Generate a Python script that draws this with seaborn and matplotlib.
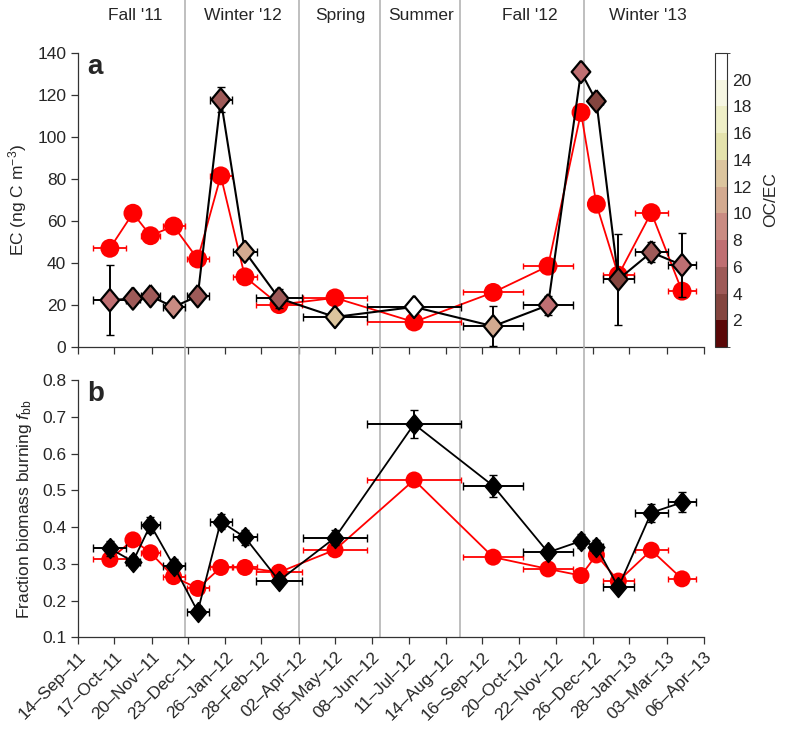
import numpy as np
import pandas as pd
import matplotlib
matplotlib.use('Agg')
import matplotlib.pyplot as plt
import matplotlib.dates as mdates
from matplotlib.colors import ListedColormap, BoundaryNorm
from matplotlib.cm import ScalarMappable
import seaborn as sns

# sample mid dates and half-width of sampling period (days)
dates = ['2011-10-13', '2011-11-03', '2011-11-19', '2011-12-10', '2012-01-01',
         '2012-01-22', '2012-02-13', '2012-03-15', '2012-05-05', '2012-07-16',
         '2012-09-26', '2012-11-15', '2012-12-15', '2012-12-29', '2013-01-18',
         '2013-02-17', '2013-03-17']
x_err_days = [15, 6, 9, 10, 10, 10, 11, 21, 29, 43, 27, 23, 5, 6, 14, 15, 13]

# panel a: EC (ng C m-3)
ec_black = [22.3, 23.1, 24.2, 19.1, 24.2, 117.8, 45.4, 23.2, 14.3, 19.1,
            9.9, 19.9, 131.0, 117.0, 32.2, 45.1, 39.0]
ec_black_err = [16.7, 0, 0, 0, 0, 6, 0, 4.5, 0, 0, 9.5, 4.6, 3, 2.5, 21.8, 4.8, 15.3]
ec_red = [47.0, 63.7, 53.0, 57.6, 41.9, 81.5, 33.4, 20.2, 23.4, 11.9,
          26.0, 38.5, 111.7, 68.0, 34.2, 64.0, 26.6]
oc_ec = [7, 5, 5, 8.5, 5, 5, 11, 5, 12.5, 21, 11, 6, 6.5, 3, 3, 5, 6]

# panel b: fraction biomass burning
fbb_black = [0.342, 0.306, 0.406, 0.295, 0.170, 0.415, 0.372, 0.254, 0.371, 0.680,
             0.512, 0.331, 0.362, 0.347, 0.236, 0.439, 0.467]
fbb_black_err = [0.02, 0.015, 0.022, 0.018, 0.015, 0.02, 0.02, 0.015, 0.02, 0.038,
                 0.03, 0.015, 0.02, 0.018, 0.01, 0.025, 0.027]
fbb_red = [0.312, 0.365, 0.330, 0.265, 0.233, 0.290, 0.290, 0.277, 0.338, 0.528,
           0.318, 0.286, 0.268, 0.324, 0.253, 0.337, 0.259]

tick_labels = ['14–Sep–11', '17–Oct–11', '20–Nov–11', '23–Dec–11', '26–Jan–12',
               '28–Feb–12', '02–Apr–12', '05–May–12', '08–Jun–12', '11–Jul–12',
               '14–Aug–12', '16–Sep–12', '20–Oct–12', '22–Nov–12', '26–Dec–12',
               '28–Jan–13', '03–Mar–13', '06–Apr–13']

season_names = ["Fall '11", "Winter '12", 'Spring', 'Summer', "Fall '12", "Winter '13"]
season_centers = ['2011-11-05', '2012-02-11', '2012-05-10', '2012-07-22', '2012-10-29', '2013-02-14']
season_bounds = ['2011-12-20', '2012-04-02', '2012-06-15', '2012-08-27', '2012-12-18']

cbar_colors = ['#5a0808', '#84453f', '#9e5a58', '#bf6f72', '#c98b82', '#d3aa90',
               '#dcc59e', '#e4e2ac', '#eeeec6', '#f6f6e2', '#ffffff']

sns.set_style('ticks')
plt.rcParams['font.family'] = ['Liberation Sans', 'DejaVu Sans']
plt.rcParams['mathtext.fontset'] = 'custom'
plt.rcParams['mathtext.rm'] = 'Liberation Sans'
plt.rcParams['mathtext.it'] = 'Liberation Sans:italic'

x = mdates.date2num(pd.to_datetime(dates))
ticks = mdates.date2num(pd.to_datetime([t.replace('–', '-') for t in tick_labels], format='%d-%b-%y'))
df = pd.DataFrame({'x': x, 'ec_black': ec_black, 'ec_red': ec_red, 'oc_ec': oc_ec,
                   'fbb_black': fbb_black, 'fbb_red': fbb_red})

cmap = ListedColormap(cbar_colors)
norm = BoundaryNorm(np.arange(0, 24, 2), cmap.N)
diamond = [(0, 1.2), (1, 0), (0, -1.2), (-1, 0), (0, 1.2)]

fig = plt.figure(figsize=(7.88, 7.36), dpi=100)
ax1 = fig.add_axes([0.099, 0.5285, 0.7944, 0.3995])
ax2 = fig.add_axes([0.099, 0.1341, 0.7944, 0.3496])
cax = fig.add_axes([0.9074, 0.5285, 0.0152, 0.3995])

# ---- panel a
ax1.errorbar(x, ec_red, xerr=x_err_days, fmt='none', ecolor='red', elinewidth=1.3, capsize=2.5, zorder=2)
sns.lineplot(data=df, x='x', y='ec_red', color='red', lw=1.3, ax=ax1, zorder=3)
sns.scatterplot(data=df, x='x', y='ec_red', color='red', s=185, edgecolor='none', ax=ax1, zorder=4)
ax1.errorbar(x, ec_black, xerr=x_err_days, yerr=ec_black_err, fmt='none', ecolor='black',
             elinewidth=1.4, capsize=3, zorder=5)
sns.lineplot(data=df, x='x', y='ec_black', color='black', lw=1.5, ax=ax1, zorder=6)
sns.scatterplot(data=df, x='x', y='ec_black', hue='oc_ec', palette=cmap, hue_norm=norm,
                marker=diamond, s=260, edgecolor='black', linewidth=1.6, legend=False, ax=ax1, zorder=7)
ax1.set_ylim(0, 140)
ax1.set_yticks(range(0, 141, 20))
ax1.set_ylabel('EC (ng C m$^{-3}$)', fontsize=12.5, labelpad=6)
ax1.text(0.015, 0.995, 'a', transform=ax1.transAxes, fontsize=20, fontweight='bold', va='top', ha='left')

# ---- panel b
ax2.errorbar(x, fbb_red, xerr=x_err_days, fmt='none', ecolor='red', elinewidth=1.3, capsize=2.5, zorder=2)
sns.lineplot(data=df, x='x', y='fbb_red', color='red', lw=1.3, ax=ax2, zorder=3)
sns.scatterplot(data=df, x='x', y='fbb_red', color='red', s=150, edgecolor='none', ax=ax2, zorder=4)
ax2.errorbar(x, fbb_black, xerr=x_err_days, yerr=fbb_black_err, fmt='none', ecolor='black',
             elinewidth=1.4, capsize=3, zorder=5)
sns.lineplot(data=df, x='x', y='fbb_black', color='black', lw=1.3, ax=ax2, zorder=6)
sns.scatterplot(data=df, x='x', y='fbb_black', color='black', marker=diamond, s=210,
                edgecolor='black', linewidth=1, ax=ax2, zorder=7)
ax2.set_ylim(0.1, 0.8)
ax2.set_yticks(np.arange(0.1, 0.81, 0.1))
ax2.set_yticklabels([f'{v:.1f}' for v in np.arange(0.1, 0.81, 0.1)])
ax2.set_ylabel('Fraction biomass burning $\\mathit{f}_{\\mathrm{bb}}$', fontsize=12.5, labelpad=6)
ax2.text(0.015, 0.995, 'b', transform=ax2.transAxes, fontsize=20, fontweight='bold', va='top', ha='left')

for ax in (ax1, ax2):
    ax.set_xlim(ticks[0], ticks[-1])
    ax.set_xticks(ticks)
    ax.set_xlabel('')
    ax.tick_params(direction='out', length=5, width=0.9, labelsize=12.5, color='#333333')
    sns.despine(ax=ax)
    for sp in ('left', 'bottom'):
        ax.spines[sp].set_color('#333333')
        ax.spines[sp].set_linewidth(0.9)
ax1.set_xticklabels([])
ax2.set_xticklabels(tick_labels, rotation=45, ha='right', rotation_mode='anchor', fontsize=12.5)

# season separators and names
for b in mdates.date2num(pd.to_datetime(season_bounds)):
    ax1.axvline(b, ymin=0, ymax=1.18, color='#b4b4b4', lw=1.2, clip_on=False, zorder=1)
    ax2.axvline(b, ymin=0, ymax=1.13, color='#b4b4b4', lw=1.2, clip_on=False, zorder=1)
for name, c in zip(season_names, mdates.date2num(pd.to_datetime(season_centers))):
    ax1.text(c, 1.126, name, transform=ax1.get_xaxis_transform(), ha='center', va='center', fontsize=12.5)

# colorbar
cb = fig.colorbar(ScalarMappable(norm=norm, cmap=cmap), cax=cax, ticks=range(2, 21, 2))
cb.outline.set_linewidth(0.8)
cb.outline.set_edgecolor('#333333')
cax.tick_params(direction='in', length=4, width=0.8, labelsize=12.5, pad=4)
cb.set_label('OC/EC', fontsize=12.5, labelpad=8)

fig.savefig('out.png', dpi=100)
